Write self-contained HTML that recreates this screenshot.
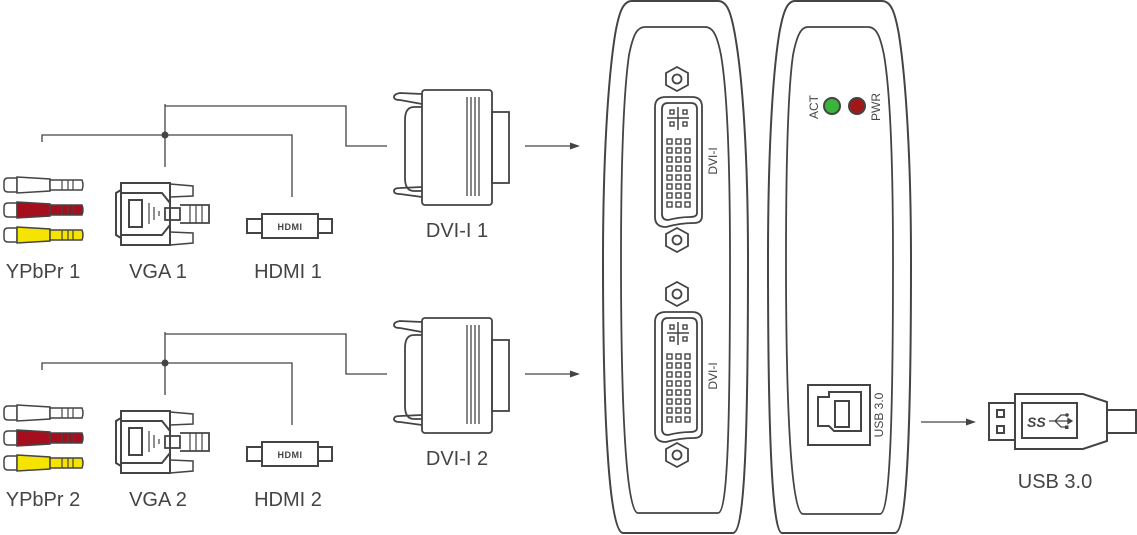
<!DOCTYPE html>
<html><head><meta charset="utf-8"><style>
html,body{margin:0;padding:0;background:#fff;}
svg{display:block;}
text{font-family:"Liberation Sans",sans-serif;fill:#444;}
</style></head><body>
<svg width="1137" height="535" viewBox="0 0 1137 535" xmlns="http://www.w3.org/2000/svg">
<defs>
<g id="rca">
  <path d="M8,-7 H17 V7 H8 Q4,7 4,3 V-3 Q4,-7 8,-7 Z" fill="#fff" stroke="#444" stroke-width="1.5"/>
  <path d="M17,-8 L50,-6 V6 L17,8 Z" stroke="#444" stroke-width="1.5"/>
  <path d="M50,-5 H82 Q84,0 82,5 H50 Z" stroke="#444" stroke-width="1.5"/>
  <path d="M62,-5 V5 M68,-5 V5 M73,-5 V5" stroke="#444" stroke-width="1.2"/>
</g>
<g id="src">
  <path d="M42,142 V135 H292 V197 M165,104 V167 M165,106 H346 V146 H387" fill="none" stroke="#444" stroke-width="1.3"/>
  <circle cx="165" cy="135" r="3.5" fill="#444"/>
  <use href="#rca" y="185" fill="#fff"/>
  <use href="#rca" y="210" fill="#a50e1d"/>
  <use href="#rca" y="235" fill="#f5e400"/>
  <!-- VGA -->
  <g fill="none" stroke="#444" stroke-width="2">
    <rect x="121" y="183" width="49" height="62"/>
    <path d="M121,190 L116,193 V235 L121,238"/>
    <path d="M121,193 H162 L170,203 M170,225 L162,235 H121"/>
    <rect x="129" y="200" width="13" height="27"/>
    <path d="M170,184 L193,186 V196 L170,197 M170,232 L193,233 V243 L170,245" stroke-width="1.5"/>
    <rect x="165" y="208" width="15" height="12" stroke-width="1.8"/>
    <path d="M180,205 H209 V223 H180" stroke-width="1.8"/>
    <path d="M190,205 V223 M196,205 V223 M202,205 V223" stroke-width="1.2"/>
    <path d="M149,203 V224 M154,207 V220 M159,211 V216" stroke-width="1.2"/>
  </g>
  <!-- HDMI -->
  <g fill="#fff" stroke="#444" stroke-width="2">
    <rect x="247" y="219" width="16" height="14"/>
    <rect x="318" y="219" width="14" height="14"/>
    <rect x="262" y="214" width="56" height="24"/>
  </g>
  <text x="290" y="230" font-size="9" font-weight="bold" text-anchor="middle" style="fill:#444" letter-spacing="0.5">HDMI</text>
  <!-- DVI plug -->
  <g fill="none" stroke="#444" stroke-width="1.8">
    <rect x="422" y="90" width="70" height="115" rx="3" fill="#fff"/>
    <rect x="492" y="112" width="17" height="71"/>
    <path d="M422,107 H414 Q405,107 405,120 V178 Q405,191 414,191 H422"/>
    <path d="M422,94 L400,93 Q394,94 394,97 Q394,100 400,100 L422,104"/>
    <path d="M422,187 L400,188 Q394,188 394,191 Q394,194 400,194 L422,197"/>
    <path d="M467,97 V196 M471,97 V196 M475,97 V196 M479,97 V196" stroke-width="1.3"/>
  </g>
  <path d="M525,146 H572" stroke="#444" stroke-width="1.2"/>
  <path d="M580,146 L570,142.5 V149.5 Z" fill="#444"/>
</g>
<g id="port">
  <g fill="none" stroke="#444" stroke-width="1.8">
    <path d="M677,67 L688,73 V85 L677,91 L666,85 V73 Z"/>
    <circle cx="677" cy="79" r="4.5"/>
    <path d="M666,97 H692 Q702,97 702,107 V216 Q702,223 694,223 Q680,223 666,227 Q655,227 655,217 V107 Q655,97 666,97 Z"/>
    <path d="M668,103 H691 Q697,103 697,109 V213 Q697,217 690,217 Q680,217 668,220 Q662,220 662,214 V109 Q662,103 668,103 Z"/>
    <path d="M677,228 L688,234 V246 L677,252 L666,246 V234 Z"/>
    <circle cx="677" cy="240" r="4.5"/>
    <path d="M667,118 H689 M678,107 V130" stroke-width="1.5"/>
  </g>
  <g fill="none" stroke="#444" stroke-width="1.4">
    <rect x="670" y="110" width="4" height="4"/><rect x="683" y="110" width="4" height="4"/>
    <rect x="670" y="122" width="4" height="4"/><rect x="683" y="122" width="4" height="4"/>
  </g>
  <g fill="none" stroke="#444" stroke-width="1.4">
    <rect x="667" y="139" width="5" height="5"/><rect x="676" y="139" width="5" height="5"/><rect x="685" y="139" width="5" height="5"/>
    <rect x="667" y="148" width="5" height="5"/><rect x="676" y="148" width="5" height="5"/><rect x="685" y="148" width="5" height="5"/>
    <rect x="667" y="157" width="5" height="5"/><rect x="676" y="157" width="5" height="5"/><rect x="685" y="157" width="5" height="5"/>
    <rect x="667" y="166" width="5" height="5"/><rect x="676" y="166" width="5" height="5"/><rect x="685" y="166" width="5" height="5"/>
    <rect x="667" y="175" width="5" height="5"/><rect x="676" y="175" width="5" height="5"/><rect x="685" y="175" width="5" height="5"/>
    <rect x="667" y="184" width="5" height="5"/><rect x="676" y="184" width="5" height="5"/><rect x="685" y="184" width="5" height="5"/>
    <rect x="667" y="193" width="5" height="5"/><rect x="676" y="193" width="5" height="5"/><rect x="685" y="193" width="5" height="5"/>
    <rect x="667" y="202" width="5" height="5"/><rect x="676" y="202" width="5" height="5"/><rect x="685" y="202" width="5" height="5"/>
  </g>
  <text transform="translate(717,161) rotate(-90)" font-size="12" text-anchor="middle">DVI-I</text>
</g>
</defs>

<use href="#src"/>
<use href="#src" y="228"/>
<g font-size="20" text-anchor="middle">
  <text x="43" y="278">YPbPr 1</text><text x="158" y="278">VGA 1</text><text x="288" y="278">HDMI 1</text>
  <text x="457" y="237">DVI-I 1</text>
  <text x="43" y="506">YPbPr 2</text><text x="158" y="506">VGA 2</text><text x="288" y="506">HDMI 2</text>
  <text x="457" y="465">DVI-I 2</text>
  <text x="1055" y="488">USB 3.0</text>
</g>

<!-- devices -->
<g fill="none" stroke="#444" stroke-width="2">
  <path d="M632,1 H718 C727,1 731,12 735,35 C743,80 748,160 748,260 C748,430 745,533 733,533 H623 C610,533 603,430 603,260 C603,160 608,80 615,35 C619,12 623,1 632,1 Z"/>
  <path d="M645,27 H705 C713,27 717,35 721,55 C727,90 730,160 730,260 C730,420 728,513 718,513 H638 C627,513 621,420 621,260 C621,160 624,90 629,55 C633,35 637,27 645,27 Z" stroke-width="1.8"/>
  <path d="M795,1 H882 C891,1 895,12 899,35 C906,80 911,160 911,260 C911,430 907,533 895,533 H782 C772,533 768,430 768,260 C768,160 772,80 779,35 C783,12 787,1 795,1 Z"/>
  <path d="M808,27 H868 C876,27 880,35 884,55 C890,90 893,160 893,260 C893,420 890,514 880,514 H803 C792,514 786,420 786,260 C786,160 788,90 793,55 C797,35 801,27 808,27 Z" stroke-width="1.8"/>
</g>
<use href="#port"/>
<use href="#port" y="215"/>

<!-- LEDs -->
<circle cx="832" cy="106" r="8" fill="#3cb43c" stroke="#444" stroke-width="2"/>
<circle cx="857" cy="106" r="8" fill="#a01818" stroke="#444" stroke-width="2"/>
<text transform="translate(818,107) rotate(-90)" font-size="12" text-anchor="middle">ACT</text>
<text transform="translate(880,107) rotate(-90)" font-size="12" text-anchor="middle">PWR</text>

<!-- USB B port -->
<g fill="none" stroke="#444" stroke-width="2">
  <rect x="808" y="385" width="62" height="60"/>
  <path d="M829,392 H861 V431 H834 L829,426 H818 V397 H829 Z"/>
  <rect x="835" y="401" width="14" height="26"/>
</g>
<text transform="translate(883,415) rotate(-90)" font-size="12" text-anchor="middle">USB 3.0</text>

<path d="M921,422 H968" stroke="#444" stroke-width="1.2"/>
<path d="M976,422 L966,418.5 V425.5 Z" fill="#444"/>

<!-- USB plug -->
<g fill="none" stroke="#444" stroke-width="2">
  <rect x="989" y="403" width="26" height="37"/>
  <rect x="997" y="410" width="7" height="7"/>
  <rect x="997" y="426" width="7" height="7"/>
  <path d="M1015,394 H1083 L1107,402 V441 L1083,449 H1015 Z"/>
  <rect x="1022" y="403" width="55" height="35"/>
  <rect x="1107" y="410" width="29" height="23"/>
</g>
<text x="1027" y="427" font-size="14" font-style="italic" font-weight="bold" style="fill:#444">SS</text>
<g stroke="#444" stroke-width="1.3" fill="none">
  <path d="M1049,421 H1072 M1055,421 L1061,415 H1066 M1055,421 L1061,427 H1066"/>
  <path d="M1072,421 L1068,418.5 V423.5 Z" fill="#444"/>
</g>
<circle cx="1067" cy="415" r="1.8" fill="#444"/>
<rect x="1065" y="425.5" width="3.5" height="3.5" fill="#444"/>
</svg>
</body></html>
